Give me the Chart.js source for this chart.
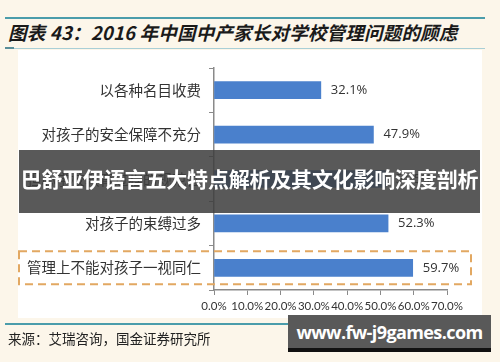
<!DOCTYPE html>
<html><head><meta charset="utf-8">
<script src="https://cdn.jsdelivr.net/npm/chart.js@4"></script>
<style>
html,body{margin:0;padding:0;background:#fcf6ea;}
#wrap{position:relative;width:500px;height:362px;overflow:hidden;}
#panel{position:absolute;left:18px;top:50px;width:464px;height:268px;background:#fff;}
#cv{position:absolute;left:0;top:0;}
.line{position:absolute;left:5px;width:480px;}
#title{position:absolute;left:8px;top:19px;font:italic bold 18.5px "Noto Sans CJK SC";color:#1a1a1a;white-space:nowrap;letter-spacing:0.2px;}
#src{position:absolute;left:8px;top:328px;font:13.5px "Noto Sans CJK SC";color:#222;white-space:nowrap;}
#banner{position:absolute;left:19px;top:150px;width:461px;height:63px;background:rgba(62,62,62,0.86);color:#fff;font:bold 21px "Noto Sans CJK SC";display:flex;align-items:center;justify-content:center;white-space:nowrap;letter-spacing:-0.2px;padding-bottom:8px;box-sizing:border-box;}
#wm{position:absolute;left:288px;top:315px;width:203px;height:37px;background:#595959;border-bottom:4px solid #111;box-sizing:border-box;color:#fff;font:bold 18px "Open Sans";letter-spacing:-0.6px;display:flex;align-items:center;justify-content:center;white-space:nowrap;}
</style></head>
<body><div id="wrap">
<div id="panel"></div>
<div class="line" style="top:17px;height:2px;background:#4b9dab;"></div>
<div class="line" style="top:48px;height:1px;background:#a9cfd6;"></div>
<div style="position:absolute;left:5px;top:47px;width:9px;height:2px;background:#5a8e99;"></div>
<div id="title">图表 43：2016 年中国中产家长对学校管理问题的顾虑</div>
<canvas id="cv" width="500" height="362"></canvas>
<div class="line" style="top:323px;height:2px;background:#4b9dab;"></div>
<div id="src">来源：艾瑞咨询，国金证券研究所</div>
<div id="banner">巴舒亚伊语言五大特点解析及其文化影响深度剖析</div>
<div id="wm">www.fw-j9games.com</div>
</div>
<script>
const categories = ['以各种名目收费','对孩子的安全保障不充分','担心学校教育过程的规范性','对孩子的束缚过多','管理上不能对孩子一视同仁'];
const values = [32.1, 47.9, 51.5, 52.3, 59.7];
const xTickValues = [0, 10, 20, 30, 40, 50, 60, 70];
const highlightIndex = 4;

const valueLabels = {
  id: 'valueLabels',
  afterDatasetsDraw(chart) {
    const ctx = chart.ctx;
    const meta = chart.getDatasetMeta(0);
    ctx.save();
    ctx.font = '13px "Open Sans"';
    ctx.fillStyle = '#333';
    ctx.textBaseline = 'middle';
    ctx.textAlign = 'left';
    meta.data.forEach((bar, i) => {
      ctx.fillText(values[i].toFixed(1) + '%', bar.x + 10, bar.y);
    });
    ctx.restore();
  }
};
const highlightBox = {
  id: 'highlightBox',
  afterDatasetsDraw(chart) {
    const ctx = chart.ctx;
    const y = chart.scales.y.getPixelForValue(highlightIndex);
    ctx.save();
    ctx.strokeStyle = '#e2a862';
    ctx.lineWidth = 2;
    ctx.setLineDash([8, 5]);
    ctx.strokeRect(19, y - 16.5, 452, 33);
    ctx.restore();
  }
};

new Chart(document.getElementById('cv'), {
  type: 'bar',
  data: {
    labels: categories,
    datasets: [{ data: values, backgroundColor: '#4a80cc', barThickness: 17 }]
  },
  options: {
    indexAxis: 'y',
    responsive: false,
    animation: false,
    layout: { padding: { left: 0, right: 53, top: 68, bottom: 0 } },
    plugins: { legend: { display: false }, tooltip: { enabled: false } },
    scales: {
      x: {
        min: 0, max: 70,
        afterBuildTicks(scale) { scale.ticks = xTickValues.map(v => ({ value: v })); },
        afterFit(scale) { scale.height = 72; },
        grid: { drawOnChartArea: false, drawTicks: true, tickLength: 5, color: '#8a8a8a' },
        border: { color: '#8a8a8a', width: 1.5 },
        ticks: { autoSkip: false, maxRotation: 0, padding: 4, color: '#333', font: { family: 'Lato', size: 11.5 },
                 callback: v => Number(v).toFixed(1) + '%' }
      },
      y: {
        afterFit(scale) { scale.width = 214; },
        grid: { drawOnChartArea: false, drawTicks: true, tickLength: 5, color: '#8a8a8a', offset: true },
        border: { color: '#8a8a8a', width: 1.5 },
        ticks: { padding: 8, color: '#333', font: { family: '"Noto Sans CJK SC"', size: 14.5 } }
      }
    }
  },
  plugins: [valueLabels, highlightBox]
});
</script>
</body></html>
